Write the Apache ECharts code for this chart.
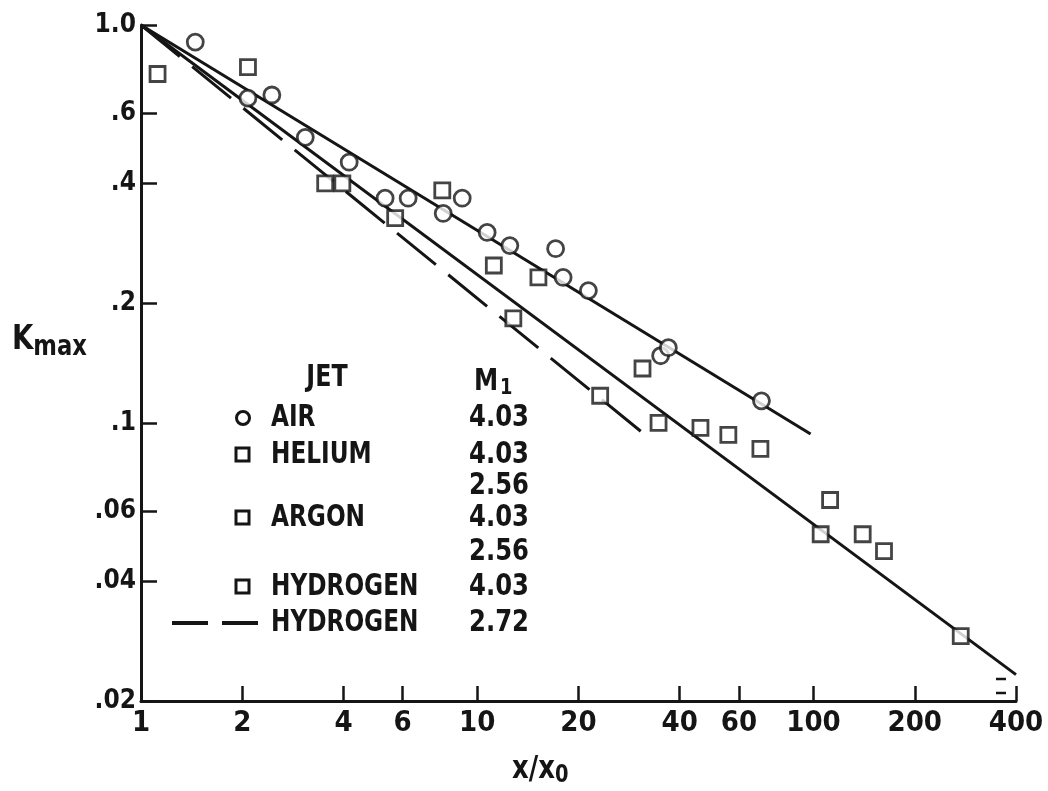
<!DOCTYPE html>
<html><head><meta charset="utf-8">
<script src="https://cdn.jsdelivr.net/npm/echarts@6/dist/echarts.min.js"></script>
<style>html,body{margin:0;padding:0;background:#fff}#c{width:1048px;height:791px}</style>
</head><body><div id="c"></div>
<script>
// ---- data ----
const xTickValues = [1, 2, 4, 6, 10, 20, 40, 60, 100, 200, 400];
const yTickValues = [0.02, 0.04, 0.06, 0.1, 0.2, 0.4, 0.6, 1.0];
const yTickLabels = ['.02', '.04', '.06', '.1', '.2', '.4', '.6', '1.0'];

// AIR jet (circles)
const airX = [1.45, 2.08, 2.45, 3.08, 4.16, 5.32, 6.23, 7.92, 9.02, 10.7, 12.5, 17.1, 18.0, 21.4, 35.1, 37.0, 70.0];
const airY = [0.906, 0.655, 0.667, 0.522, 0.452, 0.367, 0.367, 0.336, 0.367, 0.301, 0.279, 0.274, 0.232, 0.215, 0.1475, 0.1545, 0.1136];

// HELIUM / ARGON / HYDROGEN jets (squares)
const sqX = [1.12, 2.08, 3.53, 3.97, 5.70, 7.87, 11.2, 15.2, 12.8, 23.2, 31.0, 34.6, 46.1, 55.8, 69.5, 112, 105, 140, 162, 274];
const sqY = [0.753, 0.784, 0.400, 0.400, 0.327, 0.384, 0.2486, 0.232, 0.183, 0.117, 0.137, 0.100, 0.0971, 0.0933, 0.086, 0.064, 0.0525, 0.0525, 0.0476, 0.0291];

// fitted lines
const airLineX = [1, 98];
const airLineY = [1.0, 0.0938];
const solidLineX = [1, 400];
const solidLineY = [1.0, 0.0233];
const dashLineX = [1, 32.7];
const dashLineY = [1.0, 0.0911];

// legend table
const legendJet = ['AIR', 'HELIUM', '', 'ARGON', '', 'HYDROGEN', 'HYDROGEN'];
const legendMach = ['4.03', '4.03', '2.56', '4.03', '2.56', '4.03', '2.72'];
const legendMark = ['circle', 'rect', '', 'rect', '', 'rect', 'dash'];

// ---- chart ----
const INK = '#151515';
const FONT = '"DejaVu Sans Condensed","Liberation Sans Narrow","Liberation Sans",sans-serif';
const zip = (xs, ys) => xs.map((x, i) => [x, ys[i]]);

const chart = echarts.init(document.getElementById('c'), null, {renderer: 'canvas'});

const rowY = [418, 455, 486, 518, 552, 587, 623];
const graphics = [];
const TF = 'bold 30px ' + FONT;
graphics.push({type: 'text', x: 327, y: 378, scaleX: 0.88, style: {text: 'JET', font: TF, fill: INK, textAlign: 'center', textVerticalAlign: 'middle'}});
graphics.push({type: 'text', x: 474, y: 365, scaleX: 0.9, style: {
  text: '{m|M}{s|1}', rich: {m: {font: TF, fill: INK}, s: {font: 'bold 22px ' + FONT, fill: INK, padding: [12, 0, 0, 2]}}}});
legendJet.forEach((name, i) => {
  const y = rowY[i];
  if (name) graphics.push({type: 'text', x: 271, y: y, scaleX: 0.86, style: {text: name, font: TF, fill: INK, textVerticalAlign: 'middle', textAlign: 'left'}});
  graphics.push({type: 'text', x: 529, y: y, scaleX: 0.9, style: {text: legendMach[i], font: TF, fill: INK, textVerticalAlign: 'middle', textAlign: 'right'}});
  const m = legendMark[i];
  if (m === 'circle') graphics.push({type: 'circle', shape: {cx: 243, cy: y, r: 6.5}, style: {fill: '#fff', stroke: INK, lineWidth: 3}});
  if (m === 'rect') graphics.push({type: 'rect', shape: {x: 236, y: y - 7, width: 13, height: 13}, style: {fill: '#fff', stroke: INK, lineWidth: 3}});
  if (m === 'dash') graphics.push({type: 'line', shape: {x1: 172, y1: y, x2: 260, y2: y}, style: {stroke: INK, lineWidth: 4, lineDash: [36, 14]}});
});
graphics.push({type: 'text', x: 12, y: 318, scaleX: 0.9, style: {
  text: '{k|K}{s|max}', rich: {k: {font: 'bold 34px ' + FONT, fill: INK}, s: {font: 'bold 28px ' + FONT, fill: INK, padding: [16, 0, 0, 0]}}}});
graphics.push({type: 'text', x: 512, y: 752, scaleX: 0.9, style: {
  text: '{k|x/x}{s|0}', rich: {k: {font: 'bold 32px ' + FONT, fill: INK}, s: {font: 'bold 24px ' + FONT, fill: INK, padding: [12, 0, 0, 0]}}}});
// small "=" scan mark near the end of the lower line
graphics.push({type: 'line', shape: {x1: 996, y1: 679, x2: 1006, y2: 679}, style: {stroke: INK, lineWidth: 2.5}});
graphics.push({type: 'line', shape: {x1: 996, y1: 693, x2: 1006, y2: 693}, style: {stroke: INK, lineWidth: 2.5}});

const option = {
  backgroundColor: '#fff',
  animation: false,
  grid: {left: 141, right: 32, top: 25, bottom: 90, containLabel: false},
  xAxis: {
    type: 'log', min: 1, max: 400, logBase: 10,
    axisLine: {lineStyle: {color: INK, width: 3}},
    axisTick: {inside: true, length: 15, lineStyle: {color: INK, width: 2.5}, customValues: xTickValues},
    axisLabel: {customValues: xTickValues, color: INK, fontFamily: FONT, fontWeight: 'bold', fontSize: 29, margin: 8,
      formatter: v => String(Math.round(v))},
    splitLine: {show: false}, minorTick: {show: false}
  },
  yAxis: {
    type: 'log', min: 0.02, max: 1.0, logBase: 10,
    axisLine: {lineStyle: {color: INK, width: 3}},
    axisTick: {inside: true, length: 16, lineStyle: {color: INK, width: 2.5}, customValues: yTickValues},
    axisLabel: {customValues: yTickValues, color: INK, fontFamily: FONT, fontWeight: 'bold', fontSize: 26, margin: 5,
      formatter: v => { let best = 0; yTickValues.forEach((t, i) => { if (Math.abs(Math.log(t) - Math.log(v)) < Math.abs(Math.log(yTickValues[best]) - Math.log(v))) best = i; }); return yTickLabels[best]; }},
    splitLine: {show: false}, minorTick: {show: false}
  },
  series: [
    {type: 'line', data: zip(airLineX, airLineY), showSymbol: false, lineStyle: {color: INK, width: 3}, z: 2},
    {type: 'line', data: zip(solidLineX, solidLineY), showSymbol: false, lineStyle: {color: INK, width: 3}, z: 2},
    {type: 'line', data: zip(dashLineX, dashLineY), showSymbol: false, lineStyle: {color: INK, width: 3, type: [50, 16]}, z: 2},
    {type: 'scatter', data: zip(airX, airY), symbol: 'circle', symbolSize: 16,
      itemStyle: {color: '#fff', borderColor: INK, borderWidth: 2.8}, z: 3},
    {type: 'scatter', data: zip(sqX, sqY), symbol: 'rect', symbolSize: 15,
      itemStyle: {color: '#fff', borderColor: INK, borderWidth: 2.8}, z: 3}
  ],
  graphic: graphics
};
chart.setOption(option);
</script></body></html>
